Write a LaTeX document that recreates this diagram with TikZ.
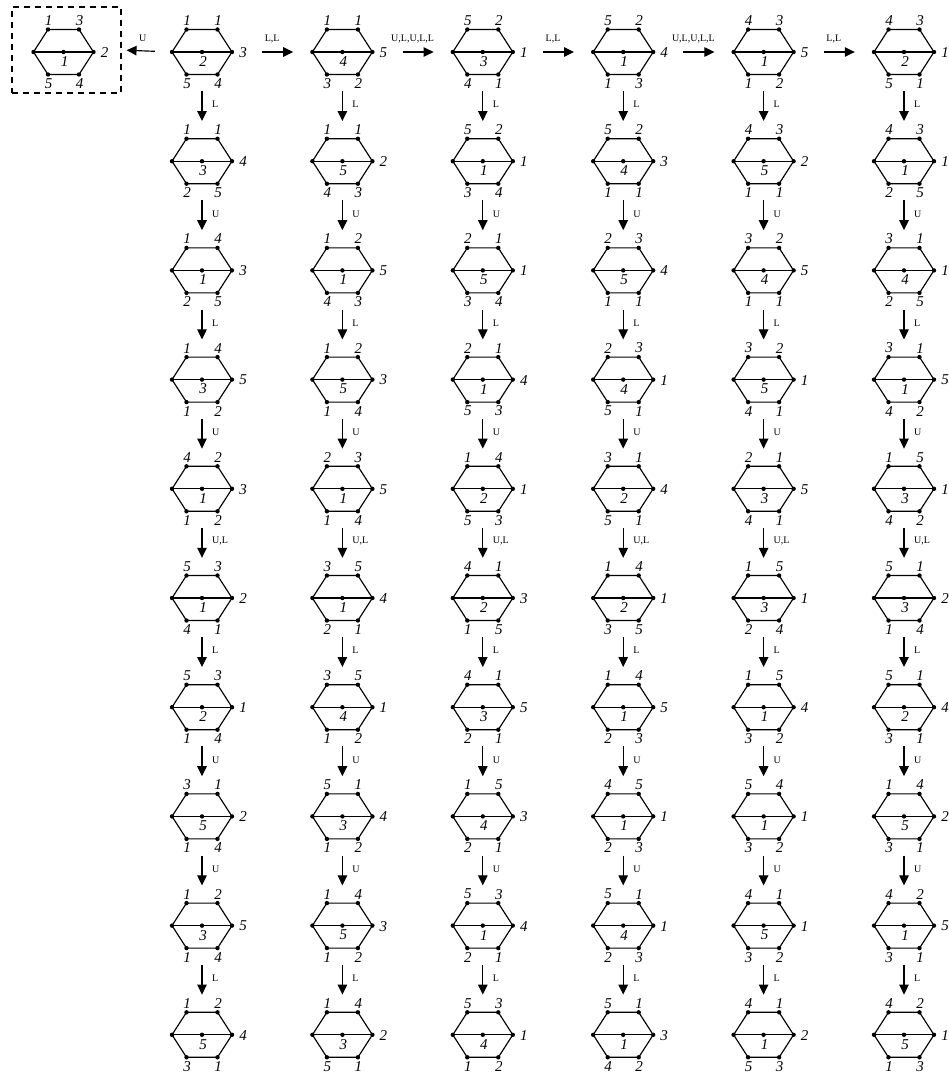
\documentclass[tikz,border=0pt]{standalone}
\usepackage{fontspec}
\setmainfont{Liberation Serif}
\usetikzlibrary{arrows.meta}
\tikzset{
  x=1pt, y=1pt,
  edge/.style={line width=1.15pt, line join=round},
  num/.style={inner sep=0pt, font=\fontsize{15}{15}\selectfont\itshape},
  mv/.style={inner sep=0pt, font=\fontsize{10}{10}\selectfont},
  arr/.style={line width=1.15pt, -{Triangle[length=10pt,width=9.5pt]}},
  hexbox/.style={inner sep=0pt, minimum width=60pt, minimum height=78pt},
  dashbox/.style={draw, line width=1.15pt, dash pattern=on 6pt off 5pt, inner sep=0pt, minimum width=109pt, minimum height=86pt},
}
% #1 name, #2 x, #3 y, #4 TL, #5 TR, #6 R, #7 BR, #8 BL, #9 centre
\newcommand\HexG[9]{%
  \node[hexbox] (#1) at (#2,#3) {};
  \begin{scope}[shift={(#2,#3)}]
    \coordinate (#1-tl) at (-15.5,22.5);
    \coordinate (#1-tr) at (15.5,22.5);
    \coordinate (#1-r) at (30,0);
    \coordinate (#1-br) at (15.5,-22.5);
    \coordinate (#1-bl) at (-15.5,-22.5);
    \coordinate (#1-l) at (-30,0);
    \coordinate (#1-c) at (0,0);
    \draw[edge] (#1-tl) -- (#1-tr) -- (#1-r) -- (#1-br) -- (#1-bl) -- (#1-l) -- cycle;
    \draw[edge] (#1-l) -- (#1-r);
    \foreach \v in {tl,tr,r,br,bl,l,c} \fill (#1-\v) circle (2.2);
    \node[num] (#1-ntl) at (-15,31.5) {#4};
    \node[num] (#1-ntr) at (16,31.5) {#5};
    \node[num] (#1-nr) at (41,-0.5) {#6};
    \node[num] (#1-nbr) at (16,-31.5) {#7};
    \node[num] (#1-nbl) at (-15,-31.5) {#8};
    \node[num] (#1-nc) at (1,-9.5) {#9};
  \end{scope}
}
\newcommand\HexAt[8]{%
  \pgfmathsetmacro\hx{202+(#1-1)*140.4}%
  \pgfmathsetmacro\hy{-(52+(#2-1)*109.2)}%
  \HexG{h#1-#2}{\hx}{\hy}{#3}{#4}{#5}{#6}{#7}{#8}%
}
\begin{document}
\begin{tikzpicture}
\useasboundingbox (0,0) rectangle (949,-1074);
% dashed reference hexagon
\node[dashbox] (box) at (66.5,-50) {};
\HexG{h0-1}{63.5}{-52}{1}{3}{2}{4}{5}{1}
% column 1
\HexAt{1}{1}{1}{1}{3}{4}{5}{2}
\HexAt{1}{2}{1}{1}{4}{5}{2}{3}
\HexAt{1}{3}{1}{4}{3}{5}{2}{1}
\HexAt{1}{4}{1}{4}{5}{2}{1}{3}
\HexAt{1}{5}{4}{2}{3}{2}{1}{1}
\HexAt{1}{6}{5}{3}{2}{1}{4}{1}
\HexAt{1}{7}{5}{3}{1}{4}{1}{2}
\HexAt{1}{8}{3}{1}{2}{4}{1}{5}
\HexAt{1}{9}{1}{2}{5}{4}{1}{3}
\HexAt{1}{10}{1}{2}{4}{1}{3}{5}
% column 2
\HexAt{2}{1}{1}{1}{5}{2}{3}{4}
\HexAt{2}{2}{1}{1}{2}{3}{4}{5}
\HexAt{2}{3}{1}{2}{5}{3}{4}{1}
\HexAt{2}{4}{1}{2}{3}{4}{1}{5}
\HexAt{2}{5}{2}{3}{5}{4}{1}{1}
\HexAt{2}{6}{3}{5}{4}{1}{2}{1}
\HexAt{2}{7}{3}{5}{1}{2}{1}{4}
\HexAt{2}{8}{5}{1}{4}{2}{1}{3}
\HexAt{2}{9}{1}{4}{3}{2}{1}{5}
\HexAt{2}{10}{1}{4}{2}{1}{5}{3}
% column 3
\HexAt{3}{1}{5}{2}{1}{1}{4}{3}
\HexAt{3}{2}{5}{2}{1}{4}{3}{1}
\HexAt{3}{3}{2}{1}{1}{4}{3}{5}
\HexAt{3}{4}{2}{1}{4}{3}{5}{1}
\HexAt{3}{5}{1}{4}{1}{3}{5}{2}
\HexAt{3}{6}{4}{1}{3}{5}{1}{2}
\HexAt{3}{7}{4}{1}{5}{1}{2}{3}
\HexAt{3}{8}{1}{5}{3}{1}{2}{4}
\HexAt{3}{9}{5}{3}{4}{1}{2}{1}
\HexAt{3}{10}{5}{3}{1}{2}{1}{4}
% column 4
\HexAt{4}{1}{5}{2}{4}{3}{1}{1}
\HexAt{4}{2}{5}{2}{3}{1}{1}{4}
\HexAt{4}{3}{2}{3}{4}{1}{1}{5}
\HexAt{4}{4}{2}{3}{1}{1}{5}{4}
\HexAt{4}{5}{3}{1}{4}{1}{5}{2}
\HexAt{4}{6}{1}{4}{1}{5}{3}{2}
\HexAt{4}{7}{1}{4}{5}{3}{2}{1}
\HexAt{4}{8}{4}{5}{1}{3}{2}{1}
\HexAt{4}{9}{5}{1}{1}{3}{2}{4}
\HexAt{4}{10}{5}{1}{3}{2}{4}{1}
% column 5
\HexAt{5}{1}{4}{3}{5}{2}{1}{1}
\HexAt{5}{2}{4}{3}{2}{1}{1}{5}
\HexAt{5}{3}{3}{2}{5}{1}{1}{4}
\HexAt{5}{4}{3}{2}{1}{1}{4}{5}
\HexAt{5}{5}{2}{1}{5}{1}{4}{3}
\HexAt{5}{6}{1}{5}{1}{4}{2}{3}
\HexAt{5}{7}{1}{5}{4}{2}{3}{1}
\HexAt{5}{8}{5}{4}{1}{2}{3}{1}
\HexAt{5}{9}{4}{1}{1}{2}{3}{5}
\HexAt{5}{10}{4}{1}{2}{3}{5}{1}
% column 6
\HexAt{6}{1}{4}{3}{1}{1}{5}{2}
\HexAt{6}{2}{4}{3}{1}{5}{2}{1}
\HexAt{6}{3}{3}{1}{1}{5}{2}{4}
\HexAt{6}{4}{3}{1}{5}{2}{4}{1}
\HexAt{6}{5}{1}{5}{1}{2}{4}{3}
\HexAt{6}{6}{5}{1}{2}{4}{1}{3}
\HexAt{6}{7}{5}{1}{4}{1}{3}{2}
\HexAt{6}{8}{1}{4}{2}{1}{3}{5}
\HexAt{6}{9}{4}{2}{5}{1}{3}{1}
\HexAt{6}{10}{4}{2}{1}{3}{1}{5}
% horizontal moves in the first row
\draw[arr, shorten <=17pt, shorten >=5pt] (h1-1.west) -- (box.east)
  node[mv, midway, xshift=-4pt, yshift=13pt] (m0) {U};
\foreach \a/\b/\t in {1/2/{L,L}, 2/3/{U,L,U,L,L}, 3/4/{L,L}, 4/5/{U,L,U,L,L}, 5/6/{L,L}}
  \draw[arr, shorten <=30pt, shorten >=19pt] (h\a-1.east) -- (h\b-1.west)
    node[mv, midway, yshift=13pt] (mh\a) {\t};
% vertical moves
\foreach \c in {1,...,6}
  \foreach \r/\s/\t in {1/2/L, 2/3/U, 3/4/L, 4/5/U, 5/6/{U,L}, 6/7/L, 7/8/U, 8/9/U, 9/10/L}
    \draw[arr, shorten >=1pt] (h\c-\r.south) -- (h\c-\s.north)
      node[mv, midway, anchor=west, xshift=9.5pt, yshift=2pt] (mv\c-\r) {\t};
\end{tikzpicture}
\end{document}
